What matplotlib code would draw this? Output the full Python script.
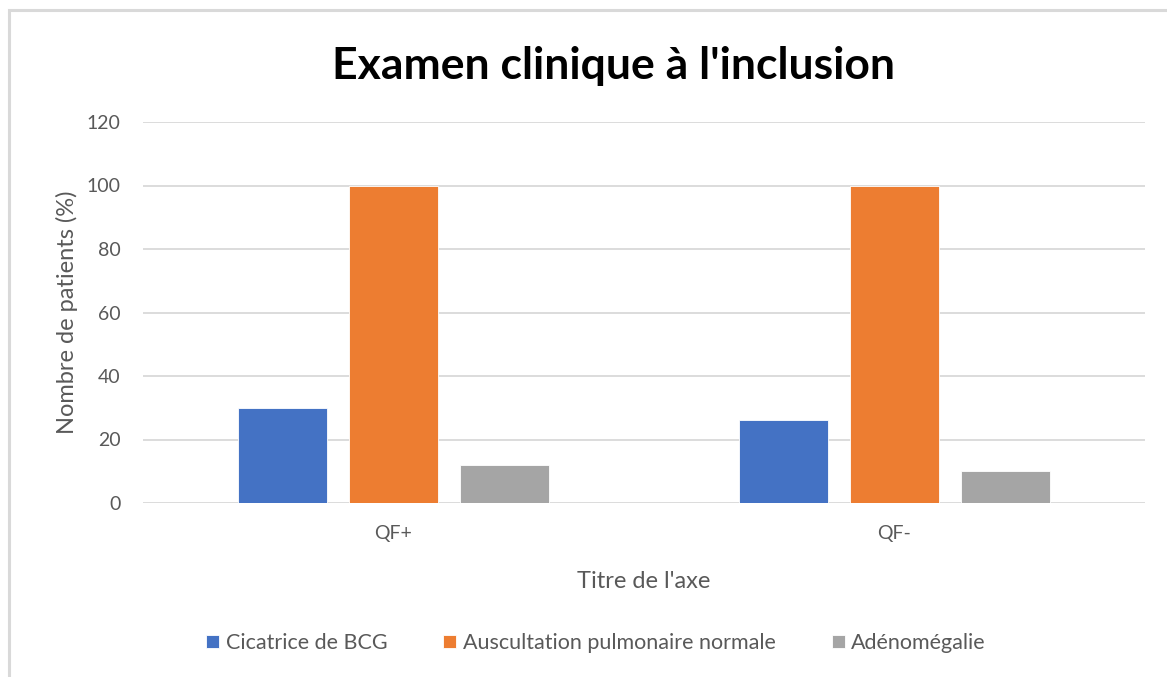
import numpy as np
import matplotlib.pyplot as plt
from matplotlib.patches import Rectangle

categories = ["QF+", "QF-"]
series_names = ["Cicatrice de BCG", "Auscultation pulmonaire normale", "Adénomégalie"]
bcg = [30, 26]
auscultation = [100, 100]
adenomegalie = [12, 10]
colors = ["#4472C4", "#ED7D31", "#A5A5A5"]
yticks = [0, 20, 40, 60, 80, 100, 120]

plt.rcParams['font.family'] = ['Lato', 'DejaVu Sans']

W, H = 1167, 677
fig = plt.figure(figsize=(W / 100, H / 100), dpi=100)
ax = fig.add_axes([143 / W, 1 - 503 / H, (1145 - 143) / W, (503 - 122) / H])

# outer chart frame (only top/left visible in the crop)
fig.patches.append(Rectangle((9 / W, -0.2), 1.5, 1.2 - 10 / H, transform=fig.transFigure,
                             fill=False, edgecolor="#D9D9D9", linewidth=2.2))

x = np.arange(len(categories))
width = 0.177
offsets = [-0.222, 0, 0.222]
for vals, name, col, off in zip([bcg, auscultation, adenomegalie], series_names, colors, offsets):
    ax.bar(x + off, vals, width, color=col, label=name, edgecolor="white", linewidth=0.6, zorder=3)

ax.set_xlim(-0.5, 1.5)
ax.set_ylim(0, 120)
ax.set_yticks(yticks)
ax.set_xticks(x)
ax.set_xticklabels(categories)
ax.tick_params(axis='both', length=0, colors="#595959", labelsize=14)
ax.tick_params(axis='y', pad=16)
ax.tick_params(axis='x', pad=16)
ax.yaxis.grid(True, color="#D9D9D9", linewidth=1.3, zorder=0)
for s in ["top", "right", "left", "bottom"]:
    ax.spines[s].set_visible(False)

ax.set_ylabel("Nombre de patients (%)", fontsize=17, color="#595959", labelpad=6)
ax.set_xlabel("Titre de l'axe", fontsize=17, color="#595959", labelpad=21)

fig.text(613 / W, 1 - 66 / H, "Examen clinique à l'inclusion", ha="center", va="center",
         fontsize=32, fontweight="bold", color="black")

fig.legend(loc="center", bbox_to_anchor=(596 / W, 1 - 643 / H), ncol=3, frameon=False,
           fontsize=15.5, handlelength=0.6, handleheight=0.6, handletextpad=0.3,
           columnspacing=2.6, labelcolor="#595959")

fig.savefig("out.png", dpi=100)
